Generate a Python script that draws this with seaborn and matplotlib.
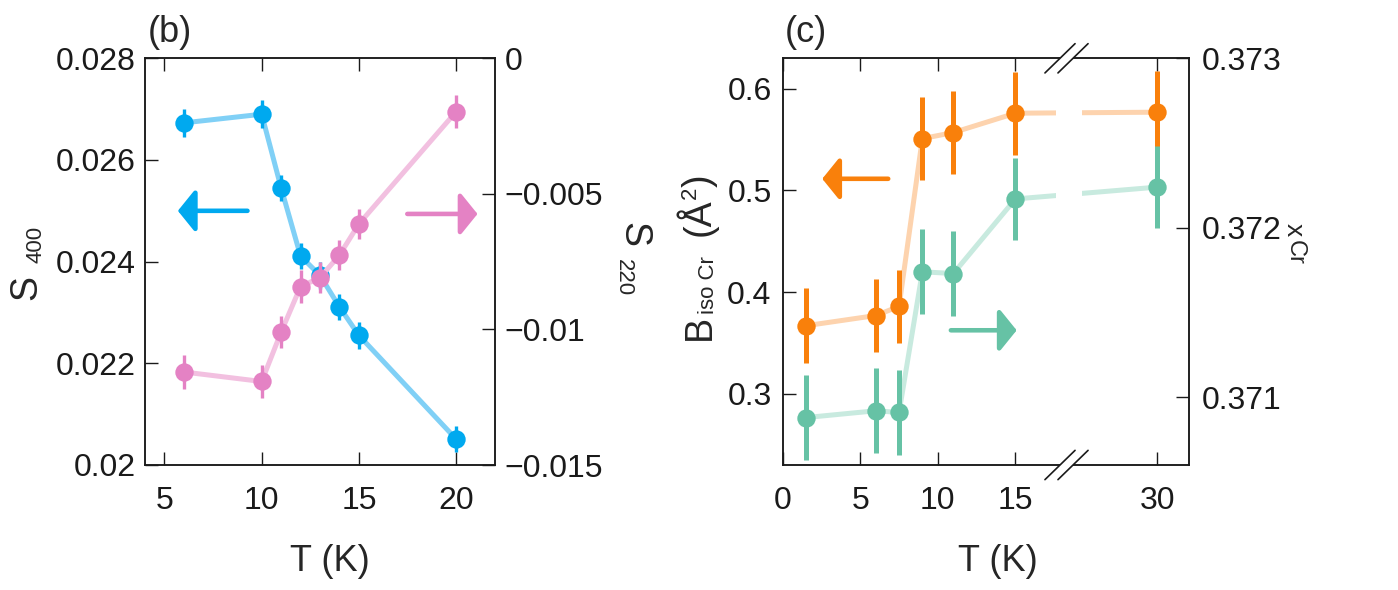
import numpy as np
import pandas as pd
import matplotlib
matplotlib.use("Agg")
import matplotlib.pyplot as plt
import seaborn as sns
from matplotlib.patches import Rectangle
from matplotlib.lines import Line2D

# ---------------- data: panel (b) ----------------
T_b = [6, 10, 11, 12, 13, 14, 15, 20]
S400 = [0.02673, 0.02690, 0.02545, 0.02411, 0.02373, 0.02311, 0.02255, 0.02051]
S400_err = [0.00027, 0.00027, 0.00025, 0.00026, 0.00026, 0.00026, 0.00026, 0.00026]
S220 = [-0.01157, -0.01192, -0.01010, -0.00842, -0.00809, -0.00726, -0.00611, -0.00197]
S220_err = [0.00062, 0.00060, 0.00058, 0.00060, 0.00058, 0.00055, 0.00057, 0.00060]
b_xticks = [5, 10, 15, 20]
b_lticks = [0.020, 0.022, 0.024, 0.026, 0.028]
b_lticklabels = ["0.02", "0.022", "0.024", "0.026", "0.028"]
b_rticks = [-0.015, -0.010, -0.005, 0.0]
b_rticklabels = ["\u22120.015", "\u22120.01", "\u22120.005", "0"]

# ---------------- data: panel (c) ----------------
T_c = [1.5, 6, 7.5, 9, 11, 15, 30]
B_iso = [0.367, 0.377, 0.386, 0.551, 0.557, 0.576, 0.577]
B_err = [0.037, 0.036, 0.036, 0.041, 0.041, 0.041, 0.041]
x_Cr = [0.37088, 0.37092, 0.37091, 0.37174, 0.37173, 0.37217, 0.37224]
x_err = [0.00025, 0.00025, 0.00025, 0.00025, 0.00025, 0.00024, 0.00024]
c_xticks = [0, 5, 10, 15, 30]
c_xticklabels = ["0", "5", "10", "15", "30"]
c_lticks = [0.3, 0.4, 0.5, 0.6]
c_lticklabels = ["0.3", "0.4", "0.5", "0.6"]
c_rticks = [0.371, 0.372, 0.373]
c_rticklabels = ["0.371", "0.372", "0.373"]

# colours
BLUE, BLUE_L = "#00A9EF", "#80D0F6"
PINK, PINK_L = "#E482C4", "#F2C0E0"
ORANGE, ORANGE_L = "#F9800B", "#FDD3AE"
GREEN, GREEN_L = "#66C2A5", "#C8EADF"

sns.set_theme(style="ticks")
plt.rcParams["font.family"] = ["Liberation Sans", "DejaVu Sans"]
plt.rcParams["axes.edgecolor"] = "#1a1a1a"
plt.rcParams["axes.linewidth"] = 1.1
plt.rcParams["xtick.color"] = "#1a1a1a"
plt.rcParams["ytick.color"] = "#1a1a1a"

W, H = 1398, 590
fig = plt.figure(figsize=(W / 100, H / 100), dpi=100)


def axrect(l, t, r, b):
    return [l / W, 1 - b / H, (r - l) / W, (b - t) / H]


def ftxt(x, y, s, **kw):
    fig.text(x / W, 1 - y / H, s, **kw)


TL = 9.5   # tick length
LS = 23    # tick label size


def style_axes(ax, ax2):
    ax.tick_params(axis="x", which="both", direction="in", top=True, bottom=True,
                   length=TL, width=1.0, pad=15, labelsize=LS)
    ax.tick_params(axis="y", which="both", direction="in", left=True, right=False,
                   length=TL, width=1.0, pad=6.5, labelsize=LS)
    ax2.tick_params(axis="y", which="both", direction="in", left=False, right=True,
                    length=TL, width=1.0, pad=7, labelsize=LS)
    ax.minorticks_off()
    ax2.minorticks_off()


def arrow(ax, tail, head, color):
    ax.annotate("", xy=head, xytext=tail,
                arrowprops=dict(arrowstyle="-|>,head_length=1.05,head_width=1.3",
                                mutation_scale=10, color=color, lw=3.3,
                                shrinkA=0, shrinkB=0), zorder=6)


# ================= panel (b) =================
axb = fig.add_axes(axrect(145, 58.3, 495, 465))
axb2 = axb.twinx()
dfb = pd.DataFrame({"T": T_b, "S400": S400, "S220": S220})

sns.lineplot(data=dfb, x="T", y="S400", ax=axb, color=BLUE_L, lw=3.6, zorder=1)
axb.errorbar(T_b, S400, yerr=S400_err, fmt="none", ecolor=BLUE, elinewidth=2.4,
             capsize=0, zorder=2)
sns.scatterplot(data=dfb, x="T", y="S400", ax=axb, color=BLUE, s=175, linewidth=0,
                zorder=3)

sns.lineplot(data=dfb, x="T", y="S220", ax=axb2, color=PINK_L, lw=3.6, zorder=1)
axb2.errorbar(T_b, S220, yerr=S220_err, fmt="none", ecolor=PINK, elinewidth=2.4,
              capsize=0, zorder=2)
sns.scatterplot(data=dfb, x="T", y="S220", ax=axb2, color=PINK, s=175, linewidth=0,
                zorder=3)

axb.set_xlim(4, 22)
axb.set_ylim(0.020, 0.028)
axb2.set_ylim(-0.015, 0.0)
axb.set_xticks(b_xticks)
axb.set_xticklabels([str(v) for v in b_xticks])
axb.set_yticks(b_lticks)
axb.set_yticklabels(b_lticklabels)
axb2.set_yticks(b_rticks)
axb2.set_yticklabels(b_rticklabels)
style_axes(axb, axb2)
axb.set_ylabel("")
axb2.set_ylabel("")
axb.set_xlabel("T (K)", fontsize=26)
axb.xaxis.set_label_coords(0.529, -0.195)

arrow(axb, (9.27, 0.0250), (5.69, 0.0250), BLUE)
arrow(axb2, (17.49, -0.00574), (21.1, -0.00574), PINK)

axb.text(0.007, 1.039, "(b)", transform=axb.transAxes, fontsize=26,
         ha="left", va="baseline")

# y labels for (b)
ftxt(36.7, 287, "S", rotation=90, rotation_mode="anchor", ha="center",
     va="baseline", fontsize=27)
ftxt(42, 244, "400", rotation=90, rotation_mode="anchor", ha="center",
     va="baseline", fontsize=16)
ftxt(623, 234, "S", rotation=270, rotation_mode="anchor", ha="center",
     va="baseline", fontsize=27)
ftxt(618, 277.5, "220", rotation=270, rotation_mode="anchor", ha="center",
     va="baseline", fontsize=16)

# ================= panel (c) =================
axc = fig.add_axes(axrect(782.7, 58.3, 1189.3, 465))
axc2 = axc.twinx()
dfc = pd.DataFrame({"T": T_c, "B": B_iso, "x": x_Cr})

sns.lineplot(data=dfc, x="T", y="B", ax=axc, color=ORANGE_L, lw=3.6, zorder=1)
axc.errorbar(T_c, B_iso, yerr=B_err, fmt="none", ecolor=ORANGE, elinewidth=3.6,
             capsize=0, zorder=2)
sns.scatterplot(data=dfc, x="T", y="B", ax=axc, color=ORANGE, s=175, linewidth=0,
                zorder=3)

sns.lineplot(data=dfc, x="T", y="x", ax=axc2, color=GREEN_L, lw=3.6, zorder=1)
axc2.errorbar(T_c, x_Cr, yerr=x_err, fmt="none", ecolor=GREEN, elinewidth=3.6,
              capsize=0, zorder=2)
sns.scatterplot(data=dfc, x="T", y="x", ax=axc2, color=GREEN, s=175, linewidth=0,
                zorder=3)

K = 0.513


def fwd(t):
    t = np.asarray(t, dtype=float)
    return np.where(t <= 18, t, 18 + (t - 18) * K)


def inv(p):
    p = np.asarray(p, dtype=float)
    return np.where(p <= 18, p, 18 + (p - 18) / K)


axc.set_xscale("function", functions=(fwd, inv))
axc.set_xlim(0, 34)
axc.set_ylim(0.23, 0.63)
axc2.set_ylim(0.3706, 0.373)
axc.set_xticks(c_xticks)
axc.set_xticklabels(c_xticklabels)
axc.set_yticks(c_lticks)
axc.set_yticklabels(c_lticklabels)
axc2.set_yticks(c_rticks)
axc2.set_yticklabels(c_rticklabels)
style_axes(axc, axc2)
axc.tick_params(axis="y", pad=8)
axc2.tick_params(axis="y", pad=9)
axc.set_ylabel("")
axc2.set_ylabel("")
axc.set_xlabel("T (K)", fontsize=26)
axc.xaxis.set_label_coords(0.528, -0.195)

arrow(axc, (6.8, 0.5115), (2.55, 0.5115), ORANGE)
arrow(axc2, (10.84, 0.371395), (15.08, 0.371395), GREEN)

axc.text(0.004, 1.039, "(c)", transform=axc.transAxes, fontsize=26,
         ha="left", va="baseline")

# axis break
axc2.add_patch(Rectangle((0.672, 0.004), 0.064, 0.992, transform=axc2.transAxes,
                         facecolor="white", edgecolor="none", zorder=10))
for yb in (0.0, 1.0):
    axc2.add_patch(Rectangle((0.682, yb - 0.01), 0.032, 0.02, transform=axc2.transAxes,
                             facecolor="white", edgecolor="none", zorder=10,
                             clip_on=False))
    for x0 in (0.645, 0.677):
        axc2.add_line(Line2D([x0, x0 + 0.074], [yb - 0.036, yb + 0.036],
                             transform=axc2.transAxes, color="#1a1a1a", lw=1.2,
                             zorder=11, clip_on=False))

# y labels for (c)
ftxt(710, 340, "B", rotation=90, rotation_mode="anchor", ha="left",
     va="baseline", fontsize=27)
ftxt(714, 314, "iso Cr", rotation=90, rotation_mode="anchor", ha="left",
     va="baseline", fontsize=16)
ftxt(710, 236, "(Å", rotation=90, rotation_mode="anchor", ha="left",
     va="baseline", fontsize=27)
ftxt(696, 199, "2", rotation=90, rotation_mode="anchor", ha="left",
     va="baseline", fontsize=16)
ftxt(710, 187, ")", rotation=90, rotation_mode="anchor", ha="left",
     va="baseline", fontsize=27)
ftxt(1287, 223, "x", rotation=270, rotation_mode="anchor", ha="left",
     va="baseline", fontsize=19)
ftxt(1289, 240, "Cr", rotation=270, rotation_mode="anchor", ha="left",
     va="baseline", fontsize=17)

fig.savefig("out.png", dpi=100)
